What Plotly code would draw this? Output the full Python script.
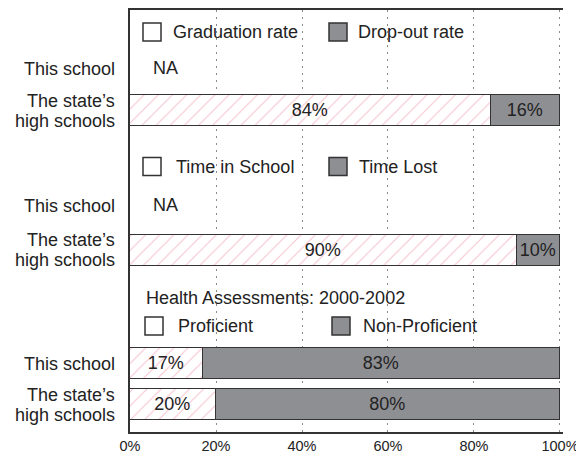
import plotly.graph_objects as go

# ---------------- data ----------------
row_labels = [["This school"], ["The state’s", "high schools"],
              ["This school"], ["The state’s", "high schools"],
              ["This school"], ["The state’s", "high schools"]]
primary_values = [None, 84, None, 90, 17, 20]     # Graduation / Time in School / Proficient
secondary_values = [None, 16, None, 10, 83, 80]   # Drop-out / Time Lost / Non-Proficient
na_rows = [0, 2]
legend_pairs = [("Graduation rate", "Drop-out rate"),
                ("Time in School", "Time Lost"),
                ("Proficient", "Non-Proficient")]
section3_title = "Health Assessments: 2000-2002"
x_ticks = [0, 20, 40, 60, 80, 100]
x_ticktext = ["0%", "20%", "40%", "60%", "80%", "100%"]

# ---------------- layout constants (page pixel units) ----------------
PAGE_OFF = 8            # default body margin of the html page
FIG_W, FIG_H = 584 - PAGE_OFF, 453 - PAGE_OFF
ROW_Y = [69, 110.5, 206, 250, 363.5, 404.5]
BAR_H = 31
PLOT_L, PLOT_R, PLOT_T, PLOT_B = 130, 563, 10, 432
XMAX = 100.7
GRAY = "#8e8f93"
EDGE = "#333333"
TXT = "#222222"
FONT = "Liberation Sans, Arial, Helvetica, sans-serif"
FS = 18


def px2x(px):
    return (px - PLOT_L) / (PLOT_R - PLOT_L) * XMAX


bar_rows = [i for i, v in enumerate(primary_values) if v is not None]

fig = go.Figure()
fig.add_trace(go.Bar(
    orientation="h",
    y=[ROW_Y[i] for i in bar_rows],
    x=[primary_values[i] for i in bar_rows],
    text=[f"{primary_values[i]}%" for i in bar_rows],
    width=BAR_H,
    marker=dict(color="white", line=dict(color=EDGE, width=1.5),
                pattern=dict(shape="/", fgcolor="#ee8fa6", bgcolor="white",
                             size=10, solidity=0.1, fgopacity=0.55)),
    textposition="inside", insidetextanchor="middle",
    constraintext="none", textangle=0,
    textfont=dict(size=FS, color=TXT, family=FONT),
    showlegend=False, hoverinfo="skip",
))
fig.add_trace(go.Bar(
    orientation="h",
    y=[ROW_Y[i] for i in bar_rows],
    x=[secondary_values[i] for i in bar_rows],
    text=[f"{secondary_values[i]}%" for i in bar_rows],
    width=BAR_H,
    marker=dict(color=GRAY, line=dict(color=EDGE, width=1.5)),
    textposition="inside", insidetextanchor="middle",
    constraintext="none", textangle=0,
    textfont=dict(size=FS, color=TXT, family=FONT),
    showlegend=False, hoverinfo="skip",
))

annotations = []
shapes = []

# row labels on the left
for lines, cy in zip(row_labels, ROW_Y):
    n = len(lines)
    for k, line in enumerate(lines):
        annotations.append(dict(x=0, xref="paper", y=cy + (k - (n - 1) / 2) * 20,
                                yref="y", text=line, showarrow=False,
                                xanchor="right", yanchor="middle", xshift=-13,
                                font=dict(size=FS, color=TXT, family=FONT)))

# NA labels
for i in na_rows:
    annotations.append(dict(x=px2x(151), y=ROW_Y[i] - 1, xref="x", yref="y",
                            text="NA", showarrow=False, xanchor="left",
                            yanchor="middle",
                            font=dict(size=FS, color=TXT, family=FONT)))

# custom legends
legend_specs = [
    # (center y, box1 left px, text1 px, box2 left px, text2 px)
    (32, 143, 171, 329, 356),
    (166.5, 143, 174, 329, 357),
    (326, 145, 176, 332, 361),
]
for (a, b), (cy, b1, t1, b2, t2) in zip(legend_pairs, legend_specs):
    for bx, fill in ((b1, "white"), (b2, GRAY)):
        shapes.append(dict(type="rect", xref="x", yref="y",
                           x0=px2x(bx), x1=px2x(bx + 18),
                           y0=cy - 9, y1=cy + 9,
                           fillcolor=fill, line=dict(color=EDGE, width=1.5),
                           layer="above"))
    for tx, label in ((t1, a), (t2, b)):
        annotations.append(dict(x=px2x(tx), y=cy, xref="x", yref="y",
                                text=label, showarrow=False, xanchor="left",
                                yanchor="middle",
                                font=dict(size=FS, color=TXT, family=FONT)))

annotations.append(dict(x=px2x(144), y=298, xref="x", yref="y",
                        text=section3_title, showarrow=False, xanchor="left",
                        yanchor="middle",
                        font=dict(size=FS, color=TXT, family=FONT)))

fig.update_layout(
    width=FIG_W, height=FIG_H,
    margin=dict(l=PLOT_L - PAGE_OFF, r=584 - PLOT_R,
                t=PLOT_T - PAGE_OFF, b=453 - PLOT_B, pad=0),
    paper_bgcolor="white", plot_bgcolor="white",
    barmode="stack", bargap=0,
    annotations=annotations, shapes=shapes,
    font=dict(family=FONT, color=TXT),
    xaxis=dict(range=[0, XMAX], tickvals=x_ticks, ticktext=x_ticktext,
               showgrid=True, gridcolor="#8a8a8a", griddash="2px,5px", gridwidth=1,
               zeroline=False, showline=True, linecolor=EDGE, linewidth=1.5,
               mirror=True, ticks="", tickfont=dict(size=14.5, color=TXT),
               automargin=False, fixedrange=True),
    yaxis=dict(range=[PLOT_B, PLOT_T], showticklabels=False,
               showgrid=False, zeroline=False, showline=True, linecolor=EDGE,
               linewidth=1.5, ticks="", automargin=False, fixedrange=True),
)

fig.write_html("out.html")
